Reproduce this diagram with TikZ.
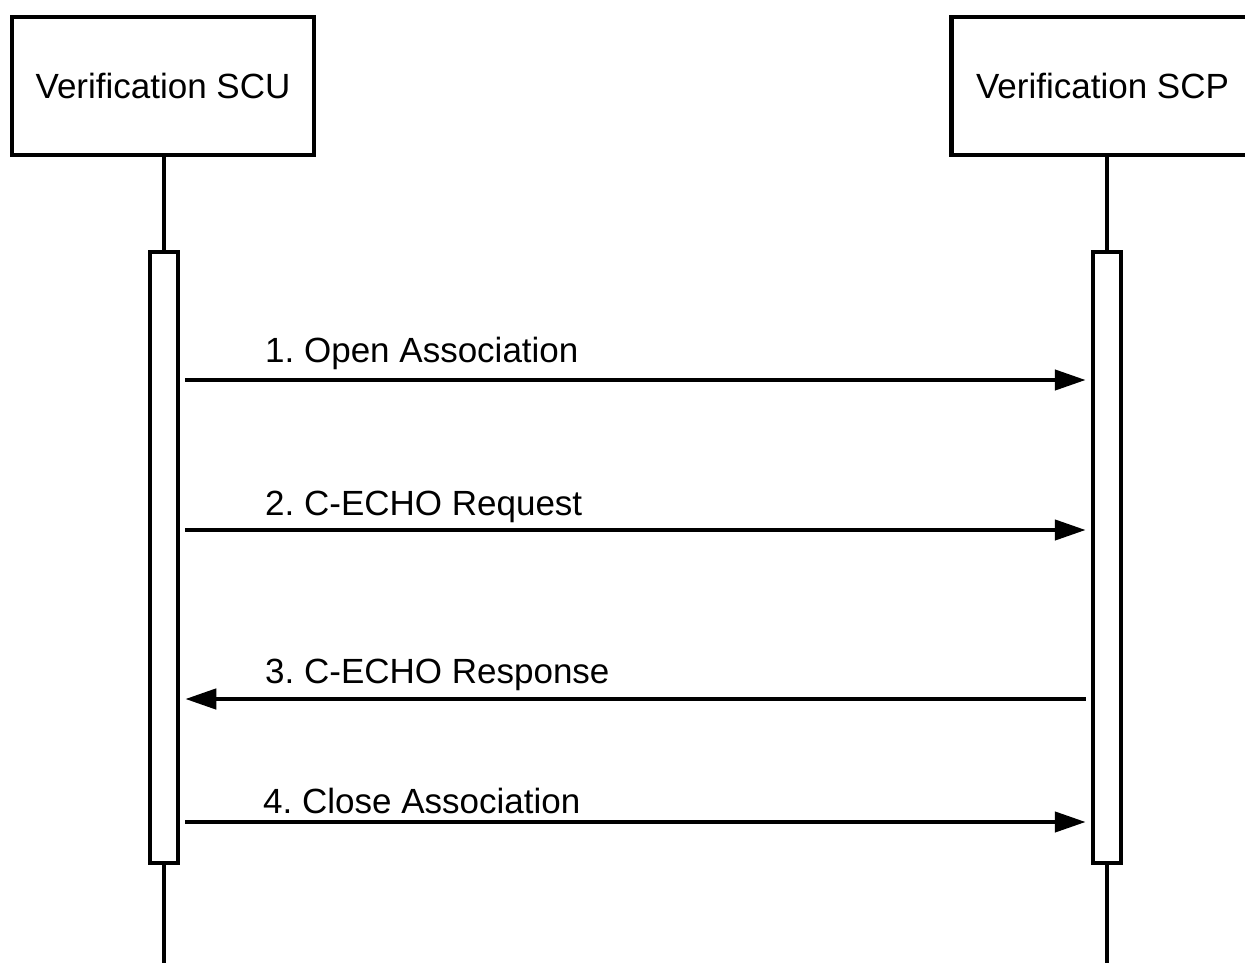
\documentclass[tikz,border=0pt]{standalone}
\usepackage{fontspec}
\setmainfont{Liberation Sans}
\usetikzlibrary{positioning,arrows.meta}
\frenchspacing

\begin{document}
\begin{tikzpicture}[x=1pt, y=-1pt,
  actor/.style={draw=black, line width=4.5pt, minimum width=302pt,
                minimum height=138pt, inner sep=0pt,
                font=\fontsize{35}{42}\selectfont},
  active/.style={draw=black, fill=white, line width=4.5pt,
                 minimum width=28pt, minimum height=611pt, inner sep=0pt},
  life/.style={line width=4pt},
  msg/.style={line width=4.5pt, -{Triangle[length=31pt, width=20pt]}},
  lbl/.style={anchor=base west, inner sep=0pt,
              font=\fontsize{35}{42}\selectfont}]

  \useasboundingbox (0,0) rectangle (1245,963);

  % participants
  \node[actor] (scu) at (163,86) {Verification SCU};
  \node[actor, right = 633pt of scu] (scp) {Verification SCP};

  % activation bars
  \node[active] (scuBar) at (164,557.5) {};
  \node[active] (scpBar) at (1107,557.5) {};

  \coordinate (scuEnd) at (scuBar.south |- 0,963);
  \coordinate (scpEnd) at (scpBar.south |- 0,963);

  % lifelines
  \draw[life] (scu.south -| scuBar) -- (scuBar.north);
  \draw[life] (scuBar.south) -- (scuEnd);
  \draw[life] (scp.south -| scpBar) -- (scpBar.north);
  \draw[life] (scpBar.south) -- (scpEnd);

  % messages
  \node[lbl] (m1) at (265,362) {1. Open Association};
  \draw[msg] ([xshift=5pt]scuBar.east |- 0,380) -- ([xshift=-5pt]scpBar.west |- 0,380);

  \node[lbl] (m2) at (265,515) {2. C-ECHO Request};
  \draw[msg] ([xshift=5pt]scuBar.east |- 0,530) -- ([xshift=-5pt]scpBar.west |- 0,530);

  \node[lbl] (m3) at (265,683) {3. C-ECHO Response};
  \draw[msg] ([xshift=-5pt]scpBar.west |- 0,699) -- ([xshift=5pt]scuBar.east |- 0,699);

  \node[lbl] (m4) at (263,813) {4. Close Association};
  \draw[msg] ([xshift=5pt]scuBar.east |- 0,822) -- ([xshift=-5pt]scpBar.west |- 0,822);

\end{tikzpicture}
\end{document}
